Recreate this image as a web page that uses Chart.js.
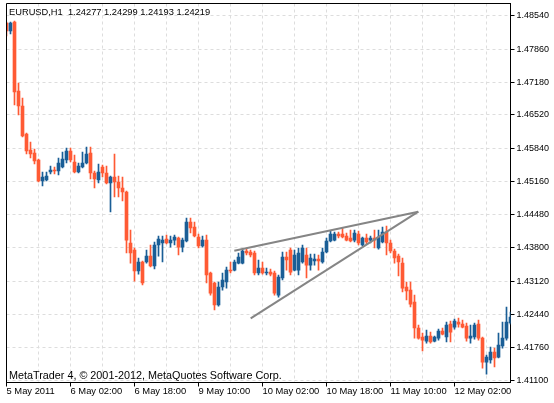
<!DOCTYPE html>
<html>
<head>
<meta charset="utf-8">
<script src="https://cdn.jsdelivr.net/npm/chart.js@4.4.1/dist/chart.umd.min.js"></script>
<style>
  html, body { margin: 0; padding: 0; background: #fff; }
  #wrap { width: 554px; height: 403px; }
</style>
</head>
<body>
<div id="wrap"><canvas id="chartEurusd"></canvas></div>
<script>
const symbolHeader = 'EURUSD,H1  1.24277 1.24299 1.24193 1.24219';
const copyright = 'MetaTrader 4, \u00a9 2001-2012, MetaQuotes Software Corp.';

// H1 bars, 5 May 2011 10:00 .. 12 May 2011 ~07:00
const openPrices = [
  1.48397, 1.48233, 1.48417, 1.47007, 1.46700, 1.46128, 1.45801, 1.45740, 1.45597, 1.45167,
  1.45188, 1.45351, 1.45392, 1.45372, 1.45454, 1.45597, 1.45781, 1.45556, 1.45351, 1.45454,
  1.45535, 1.45740, 1.45331, 1.45188, 1.45454, 1.45331, 1.45127, 1.45249, 1.45147, 1.45024,
  1.44943, 1.43900, 1.43757, 1.43328, 1.43512, 1.43512, 1.43634, 1.43430, 1.43859, 1.43900,
  1.43982, 1.43900, 1.43961, 1.44002, 1.43818, 1.43941, 1.44329, 1.44227, 1.44023, 1.43839,
  1.43961, 1.43287, 1.43083, 1.42633, 1.43001, 1.43103, 1.43348, 1.43348, 1.43491, 1.43491,
  1.43737, 1.43716, 1.43696, 1.43287, 1.43389, 1.43287, 1.43307, 1.43287, 1.42837, 1.43185,
  1.43614, 1.43757, 1.43348, 1.43348, 1.43512, 1.43655, 1.43450, 1.43532, 1.43573, 1.43512,
  1.43716, 1.43941, 1.43961, 1.44084, 1.44084, 1.44043, 1.44002, 1.43961, 1.44084, 1.43859,
  1.44002, 1.43961, 1.44002, 1.43798, 1.43921, 1.44125, 1.43900, 1.43737, 1.43634, 1.43491,
  1.43001, 1.42939, 1.42694, 1.42163, 1.41979, 1.41897, 1.41999, 1.41897, 1.41958, 1.42101,
  1.41979, 1.42244, 1.42183, 1.42285, 1.42244, 1.42204, 1.41958, 1.41979, 1.42244, 1.41958,
  1.41468, 1.41509, 1.41672, 1.41570, 1.41795, 1.41958, 1.42265
];
const highPrices = [
  1.48417, 1.48417, 1.48438, 1.47171, 1.46864, 1.46149, 1.45965, 1.45821, 1.45617, 1.45351,
  1.45351, 1.45474, 1.45454, 1.45638, 1.45760, 1.45842, 1.45842, 1.45699, 1.45535, 1.45760,
  1.45862, 1.45862, 1.45372, 1.45515, 1.45494, 1.45474, 1.45270, 1.45719, 1.45270, 1.45249,
  1.44963, 1.44166, 1.43798, 1.43594, 1.43532, 1.43757, 1.43859, 1.43921, 1.44043, 1.44043,
  1.44064, 1.44043, 1.44064, 1.44023, 1.44002, 1.44411, 1.44411, 1.44329, 1.44084, 1.44043,
  1.44064, 1.43307, 1.43103, 1.43103, 1.43287, 1.43410, 1.43512, 1.43553, 1.43696, 1.43777,
  1.43777, 1.43757, 1.43737, 1.43553, 1.43512, 1.43389, 1.43369, 1.43328, 1.43246, 1.43716,
  1.43716, 1.43798, 1.43757, 1.43798, 1.43859, 1.43798, 1.43675, 1.43675, 1.43655, 1.43798,
  1.44002, 1.44145, 1.44125, 1.44125, 1.44207, 1.44105, 1.44166, 1.44166, 1.44145, 1.44023,
  1.44084, 1.44043, 1.44166, 1.44166, 1.44227, 1.44248, 1.43961, 1.43777, 1.43675, 1.43594,
  1.43103, 1.43103, 1.42837, 1.42224, 1.42061, 1.42122, 1.42081, 1.41999, 1.42142, 1.42163,
  1.42285, 1.42306, 1.42347, 1.42367, 1.42326, 1.42265, 1.42224, 1.42265, 1.42326, 1.41979,
  1.41611, 1.41774, 1.41754, 1.42061, 1.42285, 1.42592, 1.42490
];
const lowPrices = [
  1.48131, 1.48172, 1.46721, 1.46516, 1.46067, 1.45719, 1.45638, 1.45515, 1.45147, 1.45065,
  1.45167, 1.45310, 1.45310, 1.45290, 1.45433, 1.45535, 1.45556, 1.45331, 1.45331, 1.45433,
  1.45515, 1.45208, 1.45024, 1.45127, 1.45249, 1.45106, 1.44534, 1.44840, 1.44840, 1.44759,
  1.43696, 1.43491, 1.43123, 1.43266, 1.43042, 1.43491, 1.43410, 1.43369, 1.43634, 1.43512,
  1.43880, 1.43818, 1.43859, 1.43655, 1.43716, 1.43921, 1.44105, 1.44023, 1.43798, 1.43818,
  1.43083, 1.42837, 1.42531, 1.42612, 1.42939, 1.42980, 1.43287, 1.43328, 1.43471, 1.43471,
  1.43655, 1.43614, 1.43246, 1.43246, 1.43266, 1.43246, 1.43226, 1.42837, 1.42796, 1.43144,
  1.43348, 1.43246, 1.43328, 1.43246, 1.43491, 1.43185, 1.43348, 1.43450, 1.43348, 1.43491,
  1.43696, 1.43921, 1.43941, 1.44002, 1.44002, 1.43941, 1.43921, 1.43921, 1.43859, 1.43839,
  1.43880, 1.43900, 1.43798, 1.43777, 1.43900, 1.43655, 1.43696, 1.43491, 1.43226, 1.42899,
  1.42735, 1.42592, 1.41958, 1.41938, 1.41693, 1.41856, 1.41856, 1.41877, 1.41917, 1.42020,
  1.41877, 1.41877, 1.42142, 1.42183, 1.42163, 1.41897, 1.41856, 1.41938, 1.41917, 1.41345,
  1.41222, 1.41447, 1.41366, 1.41550, 1.41754, 1.41917, 1.42244
];
const closePrices = [
  1.48233, 1.48397, 1.46987, 1.46700, 1.46087, 1.45781, 1.45719, 1.45576, 1.45167, 1.45249,
  1.45270, 1.45392, 1.45372, 1.45535, 1.45617, 1.45781, 1.45597, 1.45351, 1.45474, 1.45535,
  1.45719, 1.45331, 1.45208, 1.45351, 1.45331, 1.45127, 1.45249, 1.45147, 1.45024, 1.44943,
  1.43961, 1.43696, 1.43328, 1.43512, 1.43083, 1.43634, 1.43430, 1.43859, 1.43982, 1.43961,
  1.43900, 1.43961, 1.44023, 1.43818, 1.43961, 1.44329, 1.44207, 1.44043, 1.43839, 1.43961,
  1.43246, 1.42878, 1.42633, 1.43001, 1.43144, 1.43348, 1.43328, 1.43512, 1.43614, 1.43737,
  1.43696, 1.43655, 1.43287, 1.43389, 1.43287, 1.43307, 1.43266, 1.42878, 1.43205, 1.43614,
  1.43553, 1.43307, 1.43655, 1.43696, 1.43798, 1.43450, 1.43594, 1.43573, 1.43532, 1.43716,
  1.43941, 1.44084, 1.44084, 1.44043, 1.44023, 1.43961, 1.43941, 1.44105, 1.43900, 1.44002,
  1.43921, 1.44002, 1.43961, 1.44023, 1.44125, 1.43900, 1.43737, 1.43594, 1.43512, 1.42980,
  1.42919, 1.42653, 1.42163, 1.41958, 1.41917, 1.41999, 1.41877, 1.41979, 1.42101, 1.42040,
  1.42224, 1.42081, 1.42306, 1.42244, 1.42183, 1.41958, 1.41999, 1.42224, 1.41958, 1.41468,
  1.41570, 1.41672, 1.41550, 1.41815, 1.41958, 1.42285, 1.42388
];

const timeLabels = ['5 May 2011', '6 May 02:00', '6 May 18:00', '9 May 10:00',
  '10 May 02:00', '10 May 18:00', '11 May 10:00', '12 May 02:00'];
const timeLabelBars = [0, 16, 32, 48, 64, 80, 96, 112];
const priceTicks = [1.48540, 1.47860, 1.47180, 1.46520, 1.45840, 1.45160,
  1.44480, 1.43800, 1.43120, 1.42440, 1.41760, 1.41100];

// the two hand drawn trend lines (bar index, price)
const trendUpper = [{x: 56.95, y: 1.43743}, {x: 102.95, y: 1.44540}];
const trendLower = [{x: 61.05, y: 1.42361}, {x: 102.95, y: 1.44540}];

const bullColor = '#1a5e96';
const bearColor = '#ff5a34';
const gridColor = '#dddddd';
const lastBar = openPrices.length - 1;

const candleColors = openPrices.map((o, i) => closePrices[i] >= o ? bullColor : bearColor);
const bodies = openPrices.map((o, i) => ({x: i, y: [o, closePrices[i]]}));
const wicks = lowPrices.map((l, i) => ({x: i, y: [l, highPrices[i]]}));

const mtOverlay = {
  id: 'mtOverlay',
  afterDraw(chart) {
    const {ctx, chartArea} = chart;
    ctx.save();
    ctx.strokeStyle = '#000';
    ctx.lineWidth = 1;
    ctx.beginPath();
    ctx.moveTo(chartArea.left, chartArea.bottom);
    ctx.lineTo(chartArea.left, chartArea.top);
    ctx.lineTo(chartArea.right, chartArea.top);
    ctx.stroke();
    ctx.fillStyle = '#000';
    ctx.textBaseline = 'alphabetic';
    ctx.font = '9.3px "Liberation Sans"';
    ctx.fillText(symbolHeader, 9, 15);
    ctx.font = '10.8px "Liberation Sans"';
    ctx.fillText(copyright, 9, 379);
    ctx.restore();
  }
};

const chart = new Chart(
  document.getElementById('chartEurusd'),
  {
    type: 'bar',
    data: {
      datasets: [
        {
          type: 'line',
          data: trendUpper,
          borderColor: '#858585',
          borderWidth: 2,
          pointRadius: 0,
          order: 0
        },
        {
          type: 'line',
          data: trendLower,
          borderColor: '#858585',
          borderWidth: 2,
          pointRadius: 0,
          order: 0
        },
        {
          data: bodies,
          backgroundColor: candleColors,
          barThickness: 3,
          minBarLength: 1,
          grouped: false,
          order: 1
        },
        {
          data: wicks,
          backgroundColor: candleColors,
          barThickness: 1,
          grouped: false,
          order: 2
        }
      ]
    },
    options: {
      responsive: true,
      maintainAspectRatio: false,
      animation: false,
      layout: {
        padding: {left: 6.5, top: 3.5, right: 0, bottom: 0}
      },
      plugins: {
        legend: {display: false},
        tooltip: {enabled: false},
        title: {display: false}
      },
      scales: {
        x: {
          type: 'linear',
          min: 0,
          max: lastBar,
          offset: false,
          grid: {
            offset: false,
            color: gridColor,
            tickLength: 4,
            tickColor: (c) => (c.tick && timeLabelBars.includes(c.tick.value)) ? '#000' : 'rgba(0,0,0,0)'
          },
          border: {display: true, color: '#000', dash: [3, 3]},
          afterBuildTicks: (s) => {
            s.ticks = [];
            for (let b = 0; b <= lastBar; b += 8) s.ticks.push({value: b});
          },
          afterFit: (s) => {
            s.height = 20.5;
            s.paddingLeft = 0;
            s.paddingRight = 0;
          },
          ticks: {
            autoSkip: false,
            maxRotation: 0,
            minRotation: 0,
            align: 'start',
            padding: -1,
            color: '#000',
            font: {family: '"Liberation Sans"', size: 9.4},
            callback: (v) => {
              const k = timeLabelBars.indexOf(v);
              return k >= 0 ? timeLabels[k] : '';
            }
          }
        },
        y: {
          type: 'linear',
          position: 'right',
          min: 1.41050,
          max: 1.48795,
          beginAtZero: false,
          grid: {
            color: gridColor,
            tickLength: 4,
            tickColor: '#000'
          },
          border: {display: true, color: '#000', dash: [3, 3]},
          afterBuildTicks: (s) => {
            s.ticks = priceTicks.map((v) => ({value: v}));
          },
          afterFit: (s) => {
            s.width = 43.5;
            s.paddingTop = 0;
            s.paddingBottom = 0;
          },
          ticks: {
            autoSkip: false,
            padding: 2,
            color: '#000',
            font: {family: '"Liberation Sans"', size: 9},
            callback: (v) => v.toFixed(5)
          }
        }
      }
    },
    plugins: [mtOverlay]
  });
</script>
</body>
</html>
